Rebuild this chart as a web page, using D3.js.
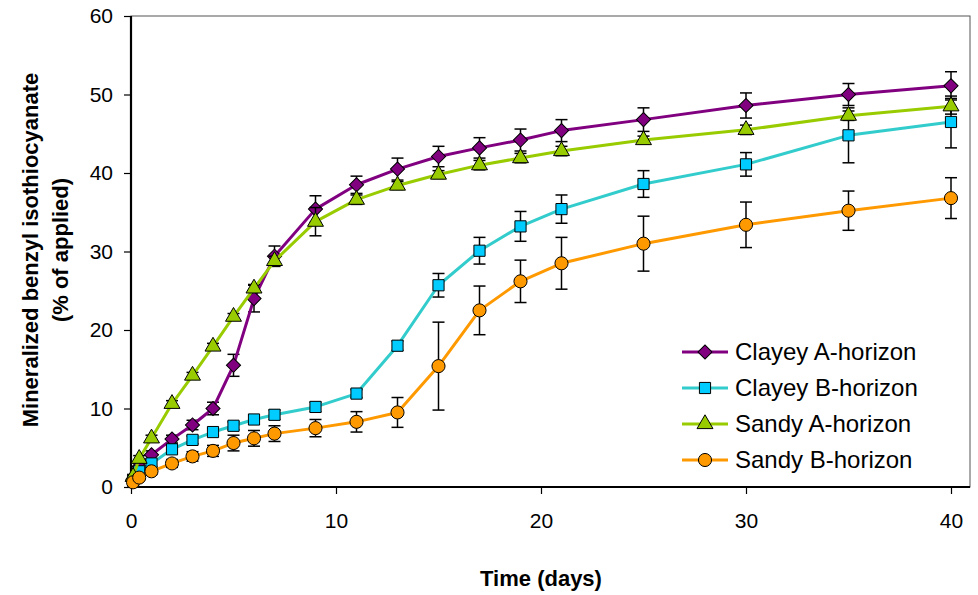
<!DOCTYPE html>
<html>
<head>
<meta charset="utf-8">
<script src="https://cdn.jsdelivr.net/npm/d3@7"></script>
<style>
	html, body { margin: 0; padding: 0; background: #fff; }
	svg { display: block; font-family: 'Liberation Sans', Arial, sans-serif; }
</style>
</head>
<body>
<svg id="chart" width="978" height="595"></svg>
<script>
'use strict';

// sampling times (days)
var days = [0.1, 0.4, 1, 2, 3, 4, 5, 6, 7, 9, 11, 13, 15, 17, 19, 21, 25, 30, 35, 40];

// mineralized benzyl isothiocyanate (% of applied), mean and error
var clayeyA = [1.0, 2.6, 4.1, 6.1, 7.9, 10.0, 15.5, 24.0, 29.4, 35.4, 38.5, 40.5, 42.1, 43.2, 44.2, 45.4, 46.8, 48.6, 50.0, 51.1];
var clayeyAErr = [0.3, 0.4, 0.5, 0.5, 0.6, 0.8, 1.4, 1.7, 1.3, 1.7, 1.1, 1.4, 1.3, 1.3, 1.4, 1.4, 1.5, 1.6, 1.4, 1.8];
var clayeyB = [0.8, 2.0, 3.0, 4.8, 6.0, 7.0, 7.8, 8.6, 9.2, 10.2, 11.9, 18.0, 25.7, 30.1, 33.2, 35.4, 38.6, 41.1, 44.8, 46.5];
var clayeyBErr = [0.2, 0.3, 0.4, 0.5, 0.5, 0.5, 0.5, 0.6, 0.6, 0.6, 0.5, 0.6, 1.5, 1.7, 1.9, 1.8, 1.7, 1.5, 3.5, 3.3];
var sandyA = [1.3, 3.6, 6.2, 10.6, 14.2, 17.9, 21.7, 25.3, 28.8, 33.8, 36.6, 38.4, 39.8, 41.0, 41.9, 42.8, 44.2, 45.5, 47.3, 48.5];
var sandyAErr = [0.3, 0.4, 0.4, 0.4, 0.4, 0.4, 0.4, 0.5, 0.6, 1.8, 0.6, 0.5, 0.5, 0.6, 0.6, 0.6, 0.5, 0.6, 0.6, 1.0];
var sandyB = [0.6, 1.2, 2.0, 3.0, 3.9, 4.6, 5.6, 6.2, 6.8, 7.5, 8.3, 9.5, 15.4, 22.5, 26.2, 28.5, 31.0, 33.4, 35.2, 36.8];
var sandyBErr = [0.2, 0.3, 0.4, 0.5, 0.6, 0.7, 1.0, 1.0, 1.0, 1.1, 1.3, 1.9, 5.6, 3.1, 2.7, 3.3, 3.5, 2.9, 2.5, 2.6];

var seriesNames = ['Clayey A-horizon', 'Clayey B-horizon', 'Sandy A-horizon', 'Sandy B-horizon'];
var xTicks = [0, 10, 20, 30, 40];
var yTicks = [0, 10, 20, 30, 40, 50, 60];

// rot: marker rotation in degrees (square turned 45 gives the wide diamond)
var series = [
	{ name : seriesNames[0], values : clayeyA, errors : clayeyAErr, line : '#800080', fill : '#800080', symbol : d3.symbolSquare, size : 100, rot : 45 },
	{ name : seriesNames[1], values : clayeyB, errors : clayeyBErr, line : '#33cccc', fill : '#00ccff', symbol : d3.symbolSquare, size : 125, rot : 0 },
	{ name : seriesNames[2], values : sandyA, errors : sandyAErr, line : '#99cc00', fill : '#99cc00', symbol : d3.symbolTriangle, size : 110, rot : 0 },
	{ name : seriesNames[3], values : sandyB, errors : sandyBErr, line : '#ff9900', fill : '#ff9900', symbol : d3.symbolCircle, size : 135, rot : 0 }
];

var plot = { left : 131, right : 970, top : 16, bottom : 487 };

var svg = d3.select('#chart');

var x = d3.scaleLinear().domain([0, 40]).range([plot.left, 951]);
var y = d3.scaleLinear().domain([0, 60]).range([plot.bottom, plot.top]);

// frame (gray top / right, black axes)
svg.append('rect')
	.attr('x', plot.left)
	.attr('y', plot.top)
	.attr('width', plot.right - plot.left)
	.attr('height', plot.bottom - plot.top)
	.attr('fill', 'none')
	.attr('stroke', '#555')
	.attr('stroke-width', 1);

var xAxis = svg.append('g')
	.attr('transform', 'translate(0,' + plot.bottom + ')')
	.call(d3.axisBottom(x).tickValues(xTicks).tickSize(7).tickPadding(19).tickSizeOuter(0));
var yAxis = svg.append('g')
	.attr('transform', 'translate(' + plot.left + ',0)')
	.call(d3.axisLeft(y).tickValues(yTicks).tickSize(7).tickPadding(11).tickSizeOuter(0));

[xAxis, yAxis].forEach(function (ax) {
	ax.select('.domain').remove();
	ax.selectAll('line').attr('stroke', '#000').attr('stroke-width', 1.2);
	ax.selectAll('text')
		.attr('font-family', 'Liberation Sans, Arial, sans-serif')
		.attr('font-size', 21)
		.attr('fill', '#000');
});

svg.append('line')
	.attr('x1', plot.left).attr('x2', plot.left)
	.attr('y1', plot.top).attr('y2', plot.bottom + 1)
	.attr('stroke', '#000').attr('stroke-width', 2.2);
svg.append('line')
	.attr('x1', plot.left - 1).attr('x2', plot.right)
	.attr('y1', plot.bottom).attr('y2', plot.bottom)
	.attr('stroke', '#000').attr('stroke-width', 2.2);

// axis titles
svg.append('text')
	.attr('x', 541)
	.attr('y', 586)
	.attr('text-anchor', 'middle')
	.attr('font-size', 22)
	.attr('font-weight', 'bold')
	.text('Time (days)');

var yTitle = svg.append('text')
	.attr('transform', 'translate(38,250) rotate(-90)')
	.attr('text-anchor', 'middle')
	.attr('font-size', 22)
	.attr('font-weight', 'bold');
yTitle.append('tspan').attr('x', 0).attr('y', 0).text('Mineralized benzyl isothiocyanate');
yTitle.append('tspan').attr('x', 0).attr('y', 30).text('(% of applied)');

var line = d3.line()
	.x(function (d) { return x(d.day); })
	.y(function (d) { return y(d.value); });

var capHalf = 6;

series.forEach(function (s) {
	var pts = days.map(function (day, i) {
		return { day : day, value : s.values[i], err : s.errors[i] };
	});
	var g = svg.append('g').attr('class', 'series');

	// error bars
	var eb = g.selectAll('g.err').data(pts).enter().append('g').attr('class', 'err');
	eb.append('line')
		.attr('x1', function (d) { return x(d.day); })
		.attr('x2', function (d) { return x(d.day); })
		.attr('y1', function (d) { return y(d.value - d.err); })
		.attr('y2', function (d) { return y(d.value + d.err); });
	eb.append('line')
		.attr('x1', function (d) { return x(d.day) - capHalf; })
		.attr('x2', function (d) { return x(d.day) + capHalf; })
		.attr('y1', function (d) { return y(d.value + d.err); })
		.attr('y2', function (d) { return y(d.value + d.err); });
	eb.append('line')
		.attr('x1', function (d) { return x(d.day) - capHalf; })
		.attr('x2', function (d) { return x(d.day) + capHalf; })
		.attr('y1', function (d) { return y(d.value - d.err); })
		.attr('y2', function (d) { return y(d.value - d.err); });
	eb.selectAll('line').attr('stroke', '#000').attr('stroke-width', 1.5);

	g.append('path')
		.attr('d', line(pts))
		.attr('fill', 'none')
		.attr('stroke', s.line)
		.attr('stroke-width', 3)
		.attr('stroke-linejoin', 'round');

	g.selectAll('path.marker').data(pts).enter().append('path')
		.attr('class', 'marker')
		.attr('transform', function (d) { return 'translate(' + x(d.day) + ',' + y(d.value) + ') rotate(' + s.rot + ')'; })
		.attr('d', d3.symbol().type(s.symbol).size(s.size))
		.attr('fill', s.fill)
		.attr('stroke', '#000')
		.attr('stroke-width', 1);
});

// legend
var legend = svg.append('g').attr('class', 'legend');
var legendRows = [352, 388, 424, 460];
series.forEach(function (s, i) {
	var row = legend.append('g').attr('transform', 'translate(0,' + legendRows[i] + ')');
	row.append('line')
		.attr('x1', 682).attr('x2', 728)
		.attr('y1', 0).attr('y2', 0)
		.attr('stroke', s.line)
		.attr('stroke-width', 3);
	row.append('path')
		.attr('transform', 'translate(705,0) rotate(' + s.rot + ')')
		.attr('d', d3.symbol().type(s.symbol).size(s.size))
		.attr('fill', s.fill)
		.attr('stroke', '#000')
		.attr('stroke-width', 1);
	row.append('text')
		.attr('x', 735)
		.attr('y', 8)
		.attr('font-size', 24)
		.text(s.name);
});
</script>
</body>
</html>
